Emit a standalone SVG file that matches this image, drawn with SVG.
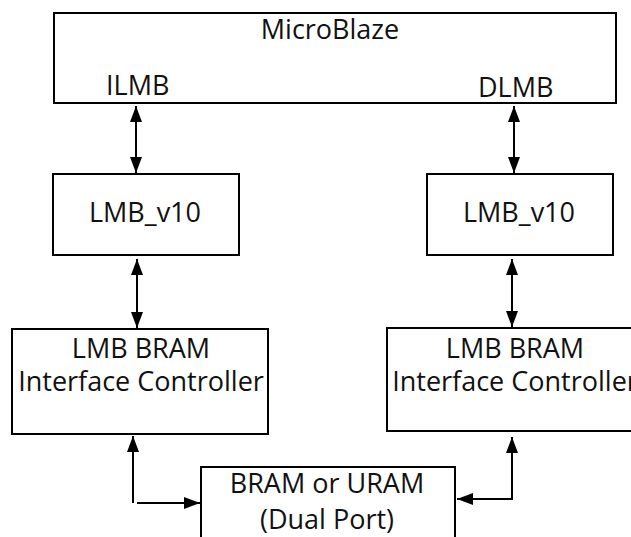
<svg xmlns="http://www.w3.org/2000/svg" width="631" height="537" viewBox="0 0 631 537">
  <style>
    .box { fill: #ffffff; stroke: #000000; stroke-width: 2; }
    .lbl { font-family: "Open Sans", "Noto Sans", "DejaVu Sans", sans-serif; font-size: 27px; fill: #111111; }
    .c { text-anchor: middle; }
    .wire { fill: none; stroke: #000000; stroke-width: 2; }
  </style>
  <defs>
    <marker id="ah" viewBox="0 0 16 12" refX="16" refY="6" markerWidth="16" markerHeight="12" markerUnits="userSpaceOnUse" orient="auto-start-reverse">
      <path d="M0,0 L16,6 L0,12 Z" fill="#000000"/>
    </marker>
  </defs>
  <rect width="631" height="537" fill="#ffffff"/>

  <g id="microblaze">
    <rect class="box" x="54" y="13" width="562" height="90"/>
    <text class="lbl c" x="330" y="39">MicroBlaze</text>
    <text class="lbl" x="106" y="95">ILMB</text>
    <text class="lbl" x="478" y="97">DLMB</text>
  </g>

  <g id="lmb_left">
    <rect class="box" x="53" y="174" width="186" height="81"/>
    <text class="lbl c" x="145" y="222">LMB_v10</text>
  </g>

  <g id="lmb_right">
    <rect class="box" x="427" y="174" width="186" height="81"/>
    <text class="lbl c" x="519" y="222">LMB_v10</text>
  </g>

  <g id="ctrl_left">
    <rect class="box" x="12" y="329" width="256" height="105"/>
    <text class="lbl c" x="141" y="358">LMB BRAM</text>
    <text class="lbl c" x="141" y="391">Interface Controller</text>
  </g>

  <g id="ctrl_right">
    <rect class="box" x="387" y="328" width="256" height="103"/>
    <text class="lbl c" x="515" y="358">LMB BRAM</text>
    <text class="lbl c" x="515" y="391">Interface Controller</text>
  </g>

  <g id="bram">
    <rect class="box" x="201" y="467" width="254" height="80"/>
    <text class="lbl c" x="327" y="493">BRAM or URAM</text>
    <text class="lbl c" x="327" y="529">(Dual Port)</text>
  </g>

  <g id="connectors">
    <line class="wire" x1="136" y1="106" x2="136" y2="173" marker-start="url(#ah)" marker-end="url(#ah)"/>
    <line class="wire" x1="514" y1="106" x2="514" y2="173" marker-start="url(#ah)" marker-end="url(#ah)"/>
    <line class="wire" x1="137" y1="259" x2="137" y2="328" marker-start="url(#ah)" marker-end="url(#ah)"/>
    <line class="wire" x1="512" y1="259" x2="512" y2="327" marker-start="url(#ah)" marker-end="url(#ah)"/>
    <line class="wire" x1="133" y1="503" x2="133" y2="436" marker-end="url(#ah)"/>
    <line class="wire" x1="137" y1="503" x2="200" y2="503" marker-end="url(#ah)"/>
    <line class="wire" x1="512" y1="499" x2="512" y2="437" marker-end="url(#ah)"/>
    <line class="wire" x1="513" y1="499" x2="457" y2="499" marker-end="url(#ah)"/>
  </g>
</svg>
